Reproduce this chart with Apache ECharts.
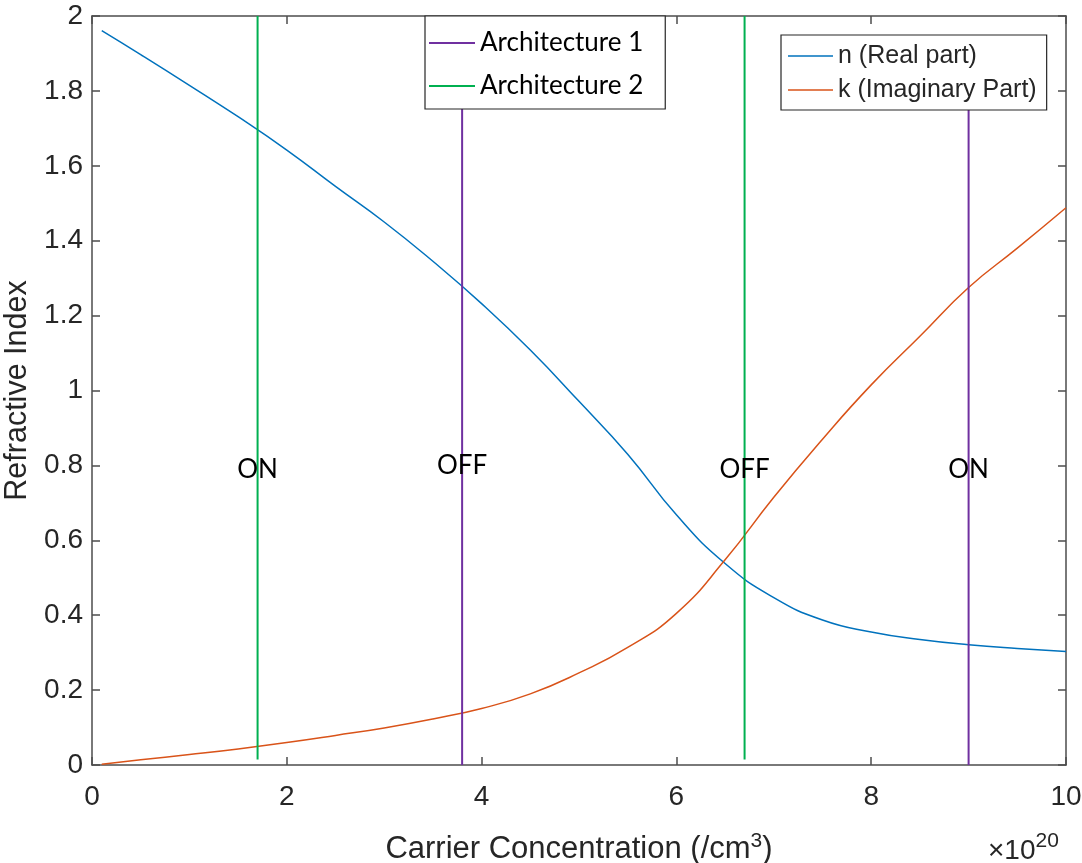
<!DOCTYPE html>
<html>
<head>
<meta charset="utf-8">
<script src="https://cdn.jsdelivr.net/npm/echarts@6/dist/echarts.min.js"></script>
<style>
html,body{margin:0;padding:0;background:#fff;}
#chart{width:1082px;height:863px;}
</style>
</head>
<body>
<div id="chart"></div>
<script>
// ---- data ----
const nX = [0.1, 0.5, 1.0, 1.5, 2.0, 2.5, 3.0, 3.5, 4.0, 4.5, 5.0, 5.5, 6.0, 6.5, 7.0, 7.5, 8.0, 8.5, 9.0, 9.5, 10.0];
const nY = [1.961, 1.897, 1.815, 1.731, 1.642, 1.545, 1.450, 1.345, 1.232, 1.108, 0.971, 0.830, 0.668, 0.538, 0.447, 0.387, 0.355, 0.335, 0.321, 0.311, 0.303];
const kX = [0.1, 0.5, 1.0, 1.5, 2.0, 2.5, 3.0, 3.5, 4.0, 4.5, 5.0, 5.5, 6.0, 6.5, 7.0, 7.5, 8.0, 8.5, 9.0, 9.5, 10.0];
const kY = [0.002, 0.014, 0.028, 0.043, 0.060, 0.079, 0.099, 0.123, 0.151, 0.190, 0.246, 0.314, 0.405, 0.548, 0.715, 0.870, 1.015, 1.145, 1.275, 1.380, 1.488];

const arch1X = [3.8, 9.0];      // purple lines
const arch1Range = [0, 1.8];
const arch2X = [1.7, 6.7];      // green lines
const arch2Range = [0.015, 2];

const annX = [1.7, 3.8, 6.7, 9.0];
const annY = [0.79, 0.80, 0.79, 0.79];
const annText = ['ON', 'OFF', 'OFF', 'ON'];

const xMin = 0, xMax = 10, xInterval = 2;
const yMin = 0, yMax = 2, yInterval = 0.2;

const seriesNames = ['n (Real part)', 'k (Imaginary Part)'];
const archNames = ['Architecture 1', 'Architecture 2'];

// ---- build ----
const zip = (xs, ys) => xs.map((x, i) => [x, ys[i]]);
const C_N = '#0072BD', C_K = '#D95319', C_A1 = '#7030A0', C_A2 = '#00B050';
const AX = '#4d4d4d';
const TXT = '#262626';
const helv = 'Liberation Sans, Arial, Helvetica, sans-serif';
const cal = 'Lato, Open Sans, sans-serif';

const series = [];
arch2X.forEach(x => series.push({
  name: archNames[1], type: 'line', symbol: 'none', z: 3,
  lineStyle: { color: C_A2, width: 2 }, itemStyle: { color: C_A2 },
  data: [[x, arch2Range[0]], [x, arch2Range[1]]]
}));
arch1X.forEach(x => series.push({
  name: archNames[0], type: 'line', symbol: 'none', z: 3,
  lineStyle: { color: C_A1, width: 2 }, itemStyle: { color: C_A1 },
  data: [[x, arch1Range[0]], [x, arch1Range[1]]]
}));
series.push({
  name: seriesNames[0], type: 'line', symbol: 'none', smooth: 0.5, z: 2,
  lineStyle: { color: C_N, width: 1.5 }, itemStyle: { color: C_N },
  data: zip(nX, nY)
});
series.push({
  name: seriesNames[1], type: 'line', symbol: 'none', smooth: 0.5, z: 2,
  lineStyle: { color: C_K, width: 1.5 }, itemStyle: { color: C_K },
  data: zip(kX, kY)
});
series.push({
  name: 'ann', type: 'scatter', symbolSize: 1, z: 5, silent: true,
  itemStyle: { color: 'rgba(0,0,0,0)' },
  label: { show: true, position: 'inside', formatter: p => p.name,
           fontFamily: cal, fontSize: 26, color: '#000', opacity: 1 },
  data: annX.map((x, i) => ({ value: [x, annY[i]], name: annText[i] }))
});

const chart = echarts.init(document.getElementById('chart'), null, { renderer: 'canvas' });
chart.setOption({
  animation: false,
  backgroundColor: '#fff',
  grid: { left: 92, right: 16, top: 16, bottom: 98, containLabel: false, outerBoundsMode: 'none' },
  xAxis: [{
    type: 'value', min: xMin, max: xMax, interval: xInterval, position: 'bottom',
    name: 'Carrier Concentration (/cm{sup|3})', nameLocation: 'middle', nameGap: 66,
    nameTextStyle: { fontFamily: helv, fontSize: 31, color: TXT,
      rich: { sup: { fontFamily: helv, fontSize: 21, color: TXT, padding: [0, 0, 16, 0] } } },
    axisLine: { show: true, onZero: false, lineStyle: { color: AX, width: 1.5 } },
    axisTick: { show: true, inside: true, length: 8, lineStyle: { color: AX, width: 1.5 } },
    axisLabel: { fontFamily: helv, fontSize: 28, color: TXT, margin: 18 },
    splitLine: { show: false }
  }, {
    type: 'value', min: xMin, max: xMax, interval: xInterval, position: 'top',
    axisLine: { show: true, onZero: false, lineStyle: { color: AX, width: 1.5 } },
    axisTick: { show: true, inside: true, length: 8, lineStyle: { color: AX, width: 1.5 } },
    axisLabel: { show: false }, splitLine: { show: false }
  }],
  yAxis: [{
    type: 'value', min: yMin, max: yMax, interval: yInterval, position: 'left',
    name: 'Refractive Index', nameLocation: 'middle', nameGap: 53,
    nameTextStyle: { fontFamily: helv, fontSize: 30.5, color: TXT },
    axisLine: { show: true, onZero: false, lineStyle: { color: AX, width: 1.5 } },
    axisTick: { show: true, inside: true, length: 8, lineStyle: { color: AX, width: 1.5 } },
    axisLabel: { fontFamily: helv, fontSize: 28, color: TXT, margin: 9 },
    splitLine: { show: false }
  }, {
    type: 'value', min: yMin, max: yMax, interval: yInterval, position: 'right',
    axisLine: { show: true, onZero: false, lineStyle: { color: AX, width: 1.5 } },
    axisTick: { show: true, inside: true, length: 8, lineStyle: { color: AX, width: 1.5 } },
    axisLabel: { show: false }, splitLine: { show: false }
  }],
  legend: [{
    data: archNames, orient: 'vertical', left: 425, top: 16,
    backgroundColor: '#fff', borderColor: '#262626', borderWidth: 1.2, borderRadius: 0,
    padding: [12, 22, 8, 4], itemGap: 13, itemWidth: 46, itemHeight: 2, icon: 'rect',
    textStyle: { fontFamily: cal, fontSize: 26, color: '#000', lineHeight: 30 },
    selectedMode: false, z: 10
  }, {
    data: seriesNames, orient: 'vertical', left: 781, top: 35,
    backgroundColor: '#fff', borderColor: '#262626', borderWidth: 1.2, borderRadius: 0,
    padding: [7, 10, 6, 7], itemGap: 6, itemWidth: 45, itemHeight: 1.6, icon: 'rect',
    textStyle: { fontFamily: helv, fontSize: 25, color: TXT, lineHeight: 28 },
    selectedMode: false, z: 10
  }],
  graphic: [{
    type: 'text', left: 988, top: 831, z: 10,
    style: { text: '×10{s|20}', fontFamily: helv, fontSize: 28, fill: TXT,
      rich: { s: { fontFamily: helv, fontSize: 21, fill: TXT, padding: [0, 0, 20, 0] } } }
  }],
  series: series
});
</script>
</body>
</html>
